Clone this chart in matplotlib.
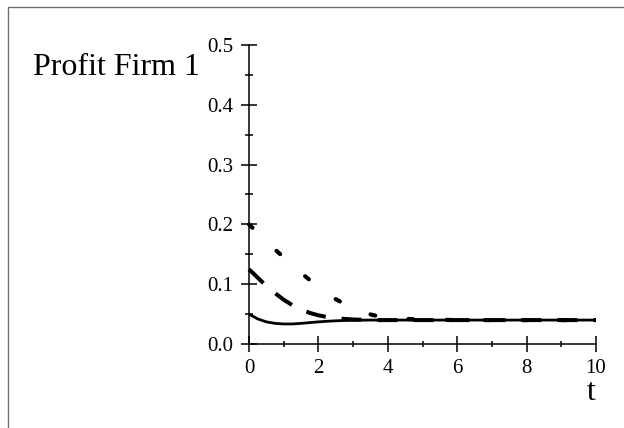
import matplotlib
matplotlib.use("Agg")
import matplotlib.pyplot as plt
from matplotlib.lines import Line2D

plt.rcParams['font.family'] = ['Liberation Serif', 'DejaVu Serif']
plt.rcParams['lines.scale_dashes'] = False

# Data
t_vals = [0, 0.25, 0.5, 0.75, 1.0, 1.25, 1.5, 1.75, 2.0, 2.25, 2.5, 2.75, 3.0,
          3.25, 3.5, 3.75, 4.0, 4.5, 5, 6, 7, 8, 9, 10]
profit_solid = [0.050, 0.042, 0.037, 0.0345, 0.0335, 0.0335, 0.0345, 0.0358, 0.037,
                0.038, 0.0388, 0.0393, 0.0397, 0.0399, 0.040, 0.040, 0.040, 0.040,
                0.040, 0.040, 0.040, 0.040, 0.040, 0.040]
profit_dashed = [0.125, 0.111, 0.097, 0.085, 0.074, 0.065, 0.058, 0.052, 0.048,
                 0.045, 0.043, 0.042, 0.041, 0.0405, 0.0402, 0.040, 0.040, 0.040,
                 0.040, 0.040, 0.040, 0.040, 0.040, 0.040]
profit_dotted = [0.200, 0.186, 0.172, 0.158, 0.145, 0.132, 0.119, 0.107, 0.096,
                 0.085, 0.075, 0.067, 0.060, 0.054, 0.0495, 0.046, 0.044, 0.042,
                 0.041, 0.040, 0.040, 0.040, 0.040, 0.040]
x_major = [0, 2, 4, 6, 8, 10]
x_minor = [1, 3, 5, 7, 9]
y_major = [0.0, 0.1, 0.2, 0.3, 0.4, 0.5]
y_minor = [0.05, 0.15, 0.25, 0.35, 0.45]
y_labels = ['0.0', '0.1', '0.2', '0.3', '0.4', '0.5']

W, H = 624, 428
fig = plt.figure(figsize=(W / 100, H / 100), dpi=100)

x0, x1 = 249, 596
y0, y1 = 344, 45
ax = fig.add_axes([x0 / W, (H - y0) / H, (x1 - x0) / W, (y0 - y1) / H])
ax.set_xlim(0, 10)
ax.set_ylim(0, 0.5)
for s in ['top', 'right']:
    ax.spines[s].set_visible(False)
for s in ['left', 'bottom']:
    ax.spines[s].set_linewidth(1.1)
    ax.spines[s].set_color('black')
ax.patch.set_visible(False)

ax.plot(t_vals, profit_solid, color='black', lw=2.0, solid_capstyle='butt', clip_on=False)
ax.plot(t_vals, profit_dashed, color='black', lw=2.9, linestyle=(0, (14.4, 11.5)),
        dash_capstyle='butt', clip_on=False)
ax.plot(t_vals, profit_dotted, color='black', lw=3.0, linestyle=(0, (3.5, 24)),
        dash_capstyle='round', clip_on=False)

ax.set_xticks(x_major)
ax.set_xticks(x_minor, minor=True)
ax.set_yticks(y_major)
ax.set_yticks(y_minor, minor=True)
ax.set_yticklabels(y_labels)
ax.tick_params(axis='x', which='major', direction='inout', length=11.5, width=1.1,
               labelsize=15, pad=5)
ax.tick_params(axis='x', which='minor', direction='inout', length=4.5, width=1.1)
ax.tick_params(axis='y', which='major', direction='inout', length=11, width=1.1,
               labelsize=15, pad=6)
ax.tick_params(axis='y', which='minor', direction='inout', length=6, width=1.1)

fig.text(33 / W, 1 - 75 / H, 'Profit Firm 1', fontsize=23, ha='left', va='baseline')
fig.text(591.5 / W, 1 - 400 / H, 't', fontsize=23, ha='center', va='baseline')

yf = 1 - 6.5 / H
xf = 7.5 / W
fig.add_artist(Line2D([xf, xf, 1.0], [0.0, yf, yf], transform=fig.transFigure,
                      color='#707070', lw=1.0))

fig.savefig('out.png', dpi=100)
